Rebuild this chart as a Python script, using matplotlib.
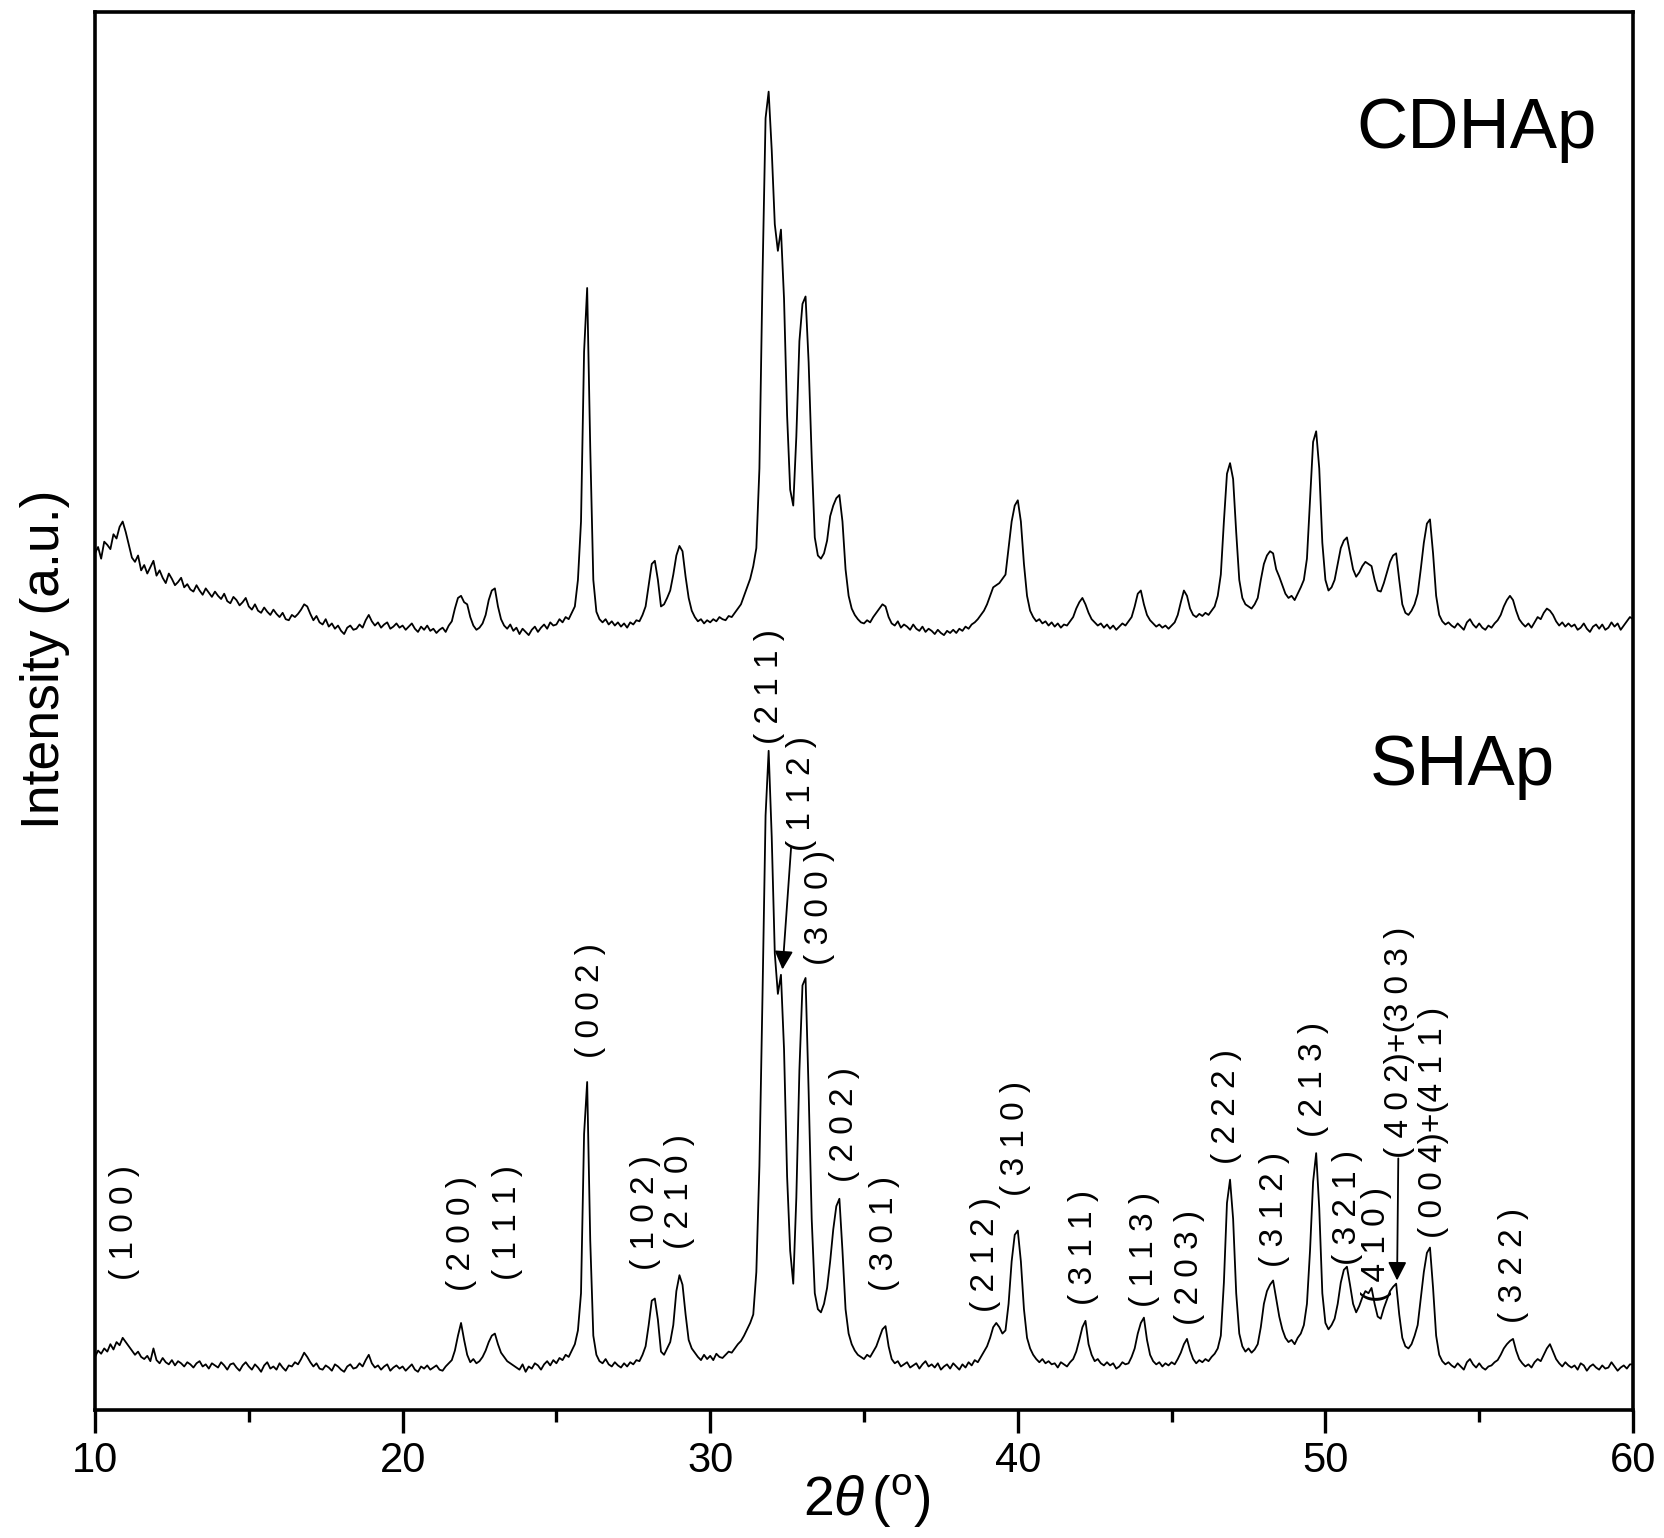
import numpy as np
import matplotlib
matplotlib.use("Agg")
import matplotlib.pyplot as plt

plt.rcParams['font.family'] = ['Liberation Sans', 'DejaVu Sans']
plt.rcParams['mathtext.fontset'] = 'custom'
plt.rcParams['mathtext.rm'] = 'Liberation Sans'
plt.rcParams['mathtext.it'] = 'Liberation Sans:italic'

# 2-theta grid (degrees), 0.1 deg step from 10 to 60
two_theta = np.round(np.linspace(10.0, 60.0, 501), 1)

# SHAp intensity (a.u.)
shap = [
    50, 56, 53, 58, 55, 62, 57, 64, 61, 68,
    64, 60, 56, 52, 55, 50, 48, 51, 46, 58,
    47, 44, 49, 45, 43, 47, 42, 46, 44, 41,
    45, 43, 40, 44, 46, 41, 43, 39, 44, 42,
    40, 45, 42, 38, 43, 44, 40, 37, 42, 45,
    41, 38, 43, 40, 36, 42, 45, 39, 41, 38,
    44, 40, 37, 42, 41, 45, 43, 48, 54, 50,
    45, 41, 44, 39, 38, 42, 40, 37, 43, 41,
    38, 36, 41, 43, 39, 40, 44, 41, 47, 52,
    44, 40, 42, 38, 41, 43, 37, 40, 42, 39,
    41, 37, 40, 43, 38, 36, 41, 39, 42, 38,
    40, 42, 38, 37, 41, 44, 47, 56, 70, 82,
    66, 52, 45, 48, 44, 46, 50, 56, 64, 70,
    72, 62, 54, 50, 46, 44, 42, 40, 38, 43,
    36, 41, 39, 44, 42, 38, 43, 46, 42, 47,
    44, 49, 47, 52, 50, 56, 62, 75, 110, 260,
    309, 160, 70, 52, 46, 44, 48, 43, 41, 45,
    42, 40, 44, 41, 45, 43, 47, 46, 52, 60,
    80, 103, 105, 85, 55, 52, 58, 64, 80, 112,
    127, 118, 90, 66, 58, 54, 50, 47, 52, 48,
    51, 47, 53, 50, 49, 52, 55, 54, 58, 62,
    65, 70, 76, 82, 90, 130, 230, 390, 560, 621,
    540, 430, 392, 410, 340, 220, 150, 119, 200, 320,
    400, 407, 300, 180, 110, 95, 92, 100, 115, 140,
    170, 192, 199, 150, 95, 72, 62, 56, 52, 50,
    48, 52, 50, 55, 60, 68, 76, 79, 60, 48,
    44, 46, 41, 43, 45, 40, 42, 44, 39, 43,
    46, 41, 43, 40, 44, 38, 41, 43, 39, 44,
    41, 38, 43, 40, 45, 42, 47, 45, 50, 55,
    60, 68, 78, 82, 78, 72, 75, 100, 140, 165,
    169, 140, 95, 68, 58, 52, 48, 45, 48, 44,
    46, 43, 44, 40, 45, 43, 41, 45, 48, 55,
    66, 78, 84, 62, 52, 46, 48, 44, 42, 45,
    42, 44, 39, 41, 45, 43, 44, 50, 58, 72,
    82, 87, 66, 52, 46, 43, 45, 41, 44, 42,
    45, 43, 48, 54, 62, 67, 56, 48, 44, 47,
    45, 48, 46, 50, 53, 58, 70, 120, 195, 217,
    180, 110, 72, 60, 55, 58, 54, 57, 62, 78,
    100, 112, 118, 122, 105, 88, 76, 68, 64, 66,
    62, 68, 72, 80, 100, 150, 215, 242, 190, 110,
    82, 76, 80, 86, 100, 120, 132, 135, 118, 100,
    92, 98, 106, 112, 110, 115, 100, 88, 86, 96,
    104, 112, 116, 119, 90, 68, 60, 58, 62, 70,
    80, 105, 130, 148, 153, 115, 70, 52, 46, 43,
    45, 42, 40, 44, 41, 38, 45, 48, 43, 40,
    44, 40, 38, 41, 42, 45, 47, 52, 58, 62,
    65, 67, 56, 48, 44, 41, 43, 40, 45, 48,
    46, 52, 58, 62, 55, 48, 44, 41, 45, 42,
    40, 42, 38, 44, 42, 37, 41, 43, 40, 38,
    42, 39, 40, 45, 41, 37, 40, 42, 39, 43,
    43,
]

# CDHAp intensity (a.u.), plotted with a vertical offset
cdhap = [
    120, 126, 115, 131, 128, 124, 138, 134, 145, 150,
    140, 128, 116, 112, 118, 104, 109, 101, 107, 113,
    99, 104, 97, 92, 101, 96, 90, 93, 97, 88,
    91, 86, 84, 90, 85, 81, 87, 83, 79, 84,
    80, 77, 82, 75, 73, 79, 76, 71, 74, 78,
    70, 67, 72, 66, 64, 69, 65, 62, 67, 63,
    60, 64, 58, 57, 62, 60, 63, 67, 72, 70,
    63, 57, 61, 55, 53, 58, 51, 54, 49, 52,
    47, 44, 50, 52, 48, 49, 53, 50, 57, 62,
    56, 52, 55, 50, 53, 55, 49, 51, 54, 50,
    52, 48, 51, 54, 49, 46, 51, 48, 52, 47,
    49, 45, 48, 50, 46, 52, 56, 68, 78, 80,
    74, 72, 60, 52, 48, 50, 54, 62, 76, 85,
    87, 70, 58, 52, 49, 53, 47, 50, 44, 49,
    46, 43, 48, 51, 46, 50, 53, 49, 55, 52,
    53, 58, 55, 60, 58, 64, 70, 95, 150, 310,
    370, 220, 95, 65, 58, 55, 58, 53, 56, 52,
    55, 51, 54, 50, 55, 53, 57, 56, 62, 70,
    90, 110, 113, 95, 70, 72, 78, 85, 100, 118,
    127, 122, 98, 78, 66, 60, 56, 58, 54, 57,
    55, 58, 56, 60, 58, 57, 61, 60, 64, 68,
    72, 80, 88, 96, 108, 125, 200, 380, 530, 555,
    500, 430, 405, 425, 360, 250, 180, 165, 230, 320,
    355, 362, 300, 210, 135, 118, 115, 120, 132, 155,
    165, 172, 175, 150, 105, 80, 68, 62, 58, 55,
    54, 57, 55, 60, 64, 68, 72, 70, 60, 54,
    52, 56, 50, 53, 51, 48, 53, 49, 47, 51,
    46, 49, 47, 44, 48, 45, 43, 47, 45, 48,
    45, 49, 47, 51, 49, 53, 55, 58, 62, 66,
    72, 80, 88, 90, 92, 96, 100, 125, 150, 165,
    170, 150, 110, 80, 66, 60, 56, 58, 54, 56,
    52, 55, 51, 54, 50, 53, 52, 56, 60, 68,
    74, 78, 72, 64, 58, 55, 52, 54, 50, 53,
    49, 52, 48, 51, 54, 52, 56, 60, 70, 82,
    85, 72, 62, 57, 54, 51, 53, 50, 52, 49,
    52, 55, 62, 74, 85, 80, 68, 62, 60, 63,
    61, 64, 62, 66, 70, 80, 100, 150, 195, 205,
    190, 140, 95, 78, 72, 70, 68, 72, 78, 95,
    110, 118, 122, 120, 105, 98, 90, 82, 78, 80,
    76, 82, 88, 95, 115, 170, 225, 235, 200, 130,
    95, 85, 88, 95, 110, 125, 132, 135, 120, 105,
    98, 102, 108, 112, 110, 108, 95, 85, 84, 92,
    102, 112, 118, 120, 95, 72, 64, 62, 66, 72,
    82, 105, 130, 148, 152, 120, 80, 62, 56, 53,
    55, 52, 50, 54, 51, 48, 55, 58, 53, 50,
    54, 50, 48, 52, 50, 54, 57, 62, 70, 76,
    80, 76, 66, 58, 54, 51, 54, 50, 55, 60,
    58, 64, 68, 66, 62, 56, 52, 55, 51, 54,
    51, 53, 48, 50, 54, 49, 46, 51, 53, 49,
    53, 48, 50, 55, 51, 54, 48, 52, 56, 60,
    58,
]
cdhap_offset = 687

# Miller-index labels of SHAp peaks
hkl_labels = ["100", "200", "111", "002", "102", "210", "211", "112", "300",
              "202", "301", "212", "310", "311", "113", "203", "222", "312",
              "213", "321", "410", "402)+(303", "004)+(411", "322"]
# label anchor (bottom-centre) positions in data coords
label_x = [10.95, 21.93, 23.41, 26.10, 27.90, 29.00, 31.93, 32.97, 33.56,
           34.35, 35.66, 38.94, 39.94, 42.12, 44.12, 45.57, 46.78, 48.33,
           49.61, 50.72, 51.66, 52.41, 53.52, 56.10]
label_y = [122, 112, 122, 332, 132, 152, 627, 527, 419,
           215, 112, 92, 202, 99, 97, 80, 232, 135,
           257, 137, 102, 237, 162, 82]


def spaced(s):
    out = "( "
    for ch in s:
        if ch in ")+(":
            out = out.rstrip(" ") + ch
        else:
            out += ch + " "
    return out + ")"


fig = plt.figure(figsize=(16.65, 15.38), dpi=100)
ax = fig.add_axes([95 / 1665, 1 - 1410 / 1538, 1538 / 1665, 1398 / 1538])

ax.plot(two_theta, np.array(shap), color='black', lw=1.3)
ax.plot(two_theta, np.array(cdhap) + cdhap_offset, color='black', lw=1.3)

ax.set_xlim(10, 60)
ax.set_ylim(0, 1317)
ax.set_xticks([10, 20, 30, 40, 50, 60])
ax.set_xticks([15, 25, 35, 45, 55], minor=True)
ax.set_yticks([])
for sp in ax.spines.values():
    sp.set_linewidth(2.6)
ax.tick_params(axis='x', which='major', length=16.5, width=2.4, pad=6,
               labelsize=30, direction='out')
ax.tick_params(axis='x', which='minor', length=8.5, width=2.4, direction='out')

ax.set_xlabel(r'2$\theta\,$($^{\rm o}$)', fontsize=40)
ax.xaxis.set_label_coords(0.502, -0.0445)
ax.set_ylabel('Intensity (a.u.)', fontsize=38.5)
ax.yaxis.set_label_coords(-0.016, 0.537)

ax.text(0.9766, 0.9027, 'CDHAp', transform=ax.transAxes, fontsize=51,
        ha='right', va='baseline')
ax.text(0.9493, 0.4471, 'SHAp', transform=ax.transAxes, fontsize=51,
        ha='right', va='baseline')

for lab, lx, ly in zip(hkl_labels, label_x, label_y):
    ax.text(lx, ly, spaced(lab), rotation=90, ha='center', va='bottom',
            fontsize=24)

# arrows for (112) and (402)+(303)
ax.annotate('', xy=(32.35, 415), xytext=(32.63, 530),
            arrowprops=dict(arrowstyle='-|>', color='black', lw=1.3,
                            mutation_scale=28, shrinkA=0, shrinkB=0))
ax.annotate('', xy=(52.33, 122), xytext=(52.37, 237),
            arrowprops=dict(arrowstyle='-|>', color='black', lw=1.3,
                            mutation_scale=28, shrinkA=0, shrinkB=0))

fig.savefig('out.png', dpi=100)
